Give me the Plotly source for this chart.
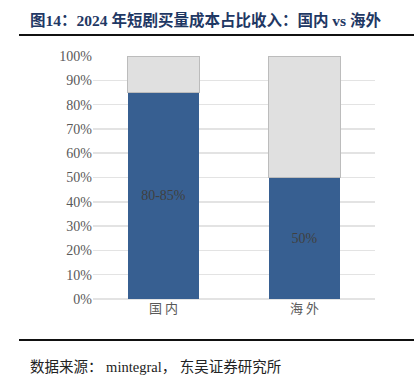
import plotly.graph_objects as go

categories = ["国 内", "海 外"]
cost_share = [85, 50]
rest_share = [15, 50]
bar_labels = ["80-85%", "50%"]
y_ticks = [0, 10, 20, 30, 40, 50, 60, 70, 80, 90, 100]
y_tick_text = [f"{v}%" for v in y_ticks]

serif = "Liberation Serif, Times New Roman, serif"
mixed = "Liberation Serif, Noto Sans CJK SC, serif"

fig = go.Figure()
fig.add_trace(go.Bar(
    x=categories, y=cost_share, marker=dict(color="#375f91", line=dict(width=0)),
    text=bar_labels, textposition="inside", insidetextanchor="middle",
    textfont=dict(family=serif, size=14, color="#404040"), hoverinfo="skip",
))
fig.add_trace(go.Bar(
    x=categories, y=rest_share, marker=dict(color="#e0e0e0", line=dict(width=1.2, color="#bcbcbc")),
    hoverinfo="skip",
))
fig.update_layout(
    barmode="stack", bargap=0.49, showlegend=False,
    width=414, height=383, margin=dict(l=93, r=39, t=56, b=84),
    paper_bgcolor="white", plot_bgcolor="white",
    xaxis=dict(tickfont=dict(family="Noto Sans CJK SC, sans-serif", size=13, color="#595959"),
               showline=False, ticks="", fixedrange=True),
    yaxis=dict(range=[0, 100], tickvals=y_ticks, ticktext=y_tick_text,
               tickfont=dict(family=serif, size=14, color="#595959"),
               showgrid=True, gridcolor="#e3e3e3", gridwidth=1.5, zeroline=True,
               zerolinecolor="#e3e3e3", zerolinewidth=1.5, ticks="", ticklen=0, fixedrange=True),
)
fig.add_annotation(text="<b>图14：2024 年短剧买量成本占比收入：国内 vs 海外</b>",
                   xref="paper", yref="paper", xanchor="left", yanchor="middle",
                   x=(28-93)/282, y=1+(56-20)/243, showarrow=False,
                   font=dict(family=mixed, size=15.5, color="#1f3864"))
fig.add_annotation(text="数据来源： mintegral， 东吴证券研究所",
                   xref="paper", yref="paper", xanchor="left", yanchor="middle",
                   x=(28-93)/282, y=-(367-299)/243, showarrow=False,
                   font=dict(family=mixed, size=14.5, color="#222222"))
fig.add_shape(type="line", xref="paper", yref="paper",
              x0=(19-93)/282, x1=(414-93)/282, y0=1+(56-35)/243, y1=1+(56-35)/243,
              line=dict(color="#111111", width=2))
fig.add_shape(type="line", xref="paper", yref="paper",
              x0=(19-93)/282, x1=(414-93)/282, y0=-(340-299)/243, y1=-(340-299)/243,
              line=dict(color="#111111", width=2))
fig.write_html("out.html", config={"displayModeBar": False, "staticPlot": True})

with open("out.html", encoding="utf-8") as f:
    html = f.read()
html = html.replace("<body>", '<body style="margin:0;padding:0;overflow:hidden">', 1)
with open("out.html", "w", encoding="utf-8") as f:
    f.write(html)
